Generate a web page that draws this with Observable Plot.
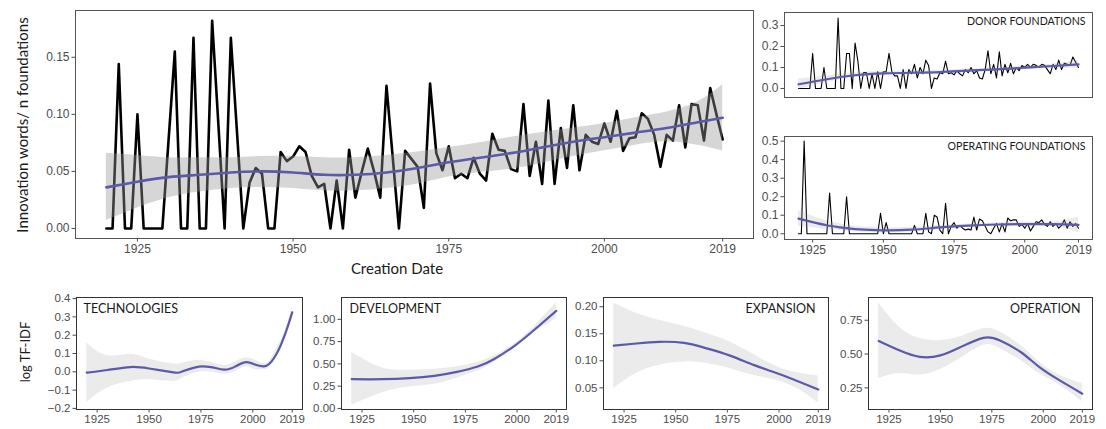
<!DOCTYPE html>
<html><head><meta charset="utf-8">
<script src="https://cdn.jsdelivr.net/npm/d3@7"></script>
<script src="https://cdn.jsdelivr.net/npm/@observablehq/plot@0.6"></script>
<style>
body{margin:0;background:#fff;}
#root{position:relative;width:1106px;height:429px;overflow:hidden;}
.p{position:absolute;}
.lab{position:absolute;color:#1a1a1a;font-family:Lato,sans-serif;white-space:nowrap;transform:translate(-50%,-50%);}
.rot{transform:translate(-50%,-50%) rotate(-90deg);}
</style></head><body><div id="root"></div>
<script>
// ---------- data ----------
const xTicks = [1925, 1950, 1975, 2000, 2019];

const mainYears = [1920,1921,1922,1923,1924,1925,1926,1927,1928,1929,
  1931,1932,1933,1934,1935,1936,1937,1939,1940,
  1942,1943,1944,1945,1946,1947,1948,1949,1950,1951,1952,1953,1954,1955,1956,1957,1958,1959,1960,1961,1962,1963,1964,1965,
  1967,1968,1969,1970,1971,1972,1973,1974,1975,1976,1977,1978,1979,1980,1981,1982,1983,1984,1985,1986,1987,1988,1989,
  1990,1991,1992,1993,1994,1995,1996,1997,1998,1999,2000,2001,2002,2003,2004,2005,2006,2007,2008,2009,
  2010,2011,2012,2013,2014,2015,2016,2017,2018,2019];
const mainValues = [0,0,0.144,0,0,0.100,0,0,0,0,
  0.155,0,0,0.167,0,0,0.182,0,0.167,
  0,0.040,0.053,0.048,0,0,0.067,0.059,0.063,0.072,0.067,0.046,0.036,0.039,0,0.042,0,0.069,0.027,0.049,0.070,0.050,0.027,0.125,
  0,0.068,0.061,0.054,0.018,0.127,0.066,0.051,0.072,0.044,0.048,0.044,0.062,0.048,0.042,0.083,0.069,0.068,0.052,0.050,0.109,0.046,0.076,
  0.039,0.112,0.039,0.088,0.053,0.108,0.051,0.082,0.076,0.074,0.092,0.076,0.103,0.068,0.079,0.080,0.101,0.096,0.082,0.054,
  0.082,0.077,0.108,0.071,0.109,0.108,0.077,0.123,0.100,0.078];
const mainSmoothYears = [1920,1925,1930,1935,1940,1945,1950,1955,1960,1965,1970,1975,1980,1985,1990,1995,2000,2005,2010,2015,2019];
const mainFit = [0.036,0.041,0.045,0.047,0.049,0.050,0.049,0.047,0.047,0.049,0.053,0.058,0.062,0.066,0.071,0.076,0.080,0.084,0.088,0.093,0.097];
const mainHi  = [0.066,0.064,0.062,0.062,0.062,0.063,0.063,0.062,0.062,0.064,0.067,0.071,0.075,0.080,0.084,0.088,0.092,0.097,0.102,0.111,0.126];
const mainLo  = [0.007,0.018,0.027,0.032,0.035,0.036,0.035,0.033,0.033,0.035,0.039,0.045,0.049,0.052,0.057,0.063,0.068,0.073,0.076,0.073,0.068];

const donorYears = d3.range(1920, 2020);
const donorValues = [
  0,0,0,0,0,0.167,0,0,0,0.1,
  0,0,0,0,0.335,0,0,0.167,0.167,0,
  0.216,0.13,0,0.076,0.076,0,0.07,0,0.08,0,
  0.08,0.08,0.167,0.08,0.06,0.06,0,0.09,0,0.09,
  0.07,0.115,0.05,0.1,0.07,0.135,0.11,0,0.05,0.045,
  0.075,0.07,0.13,0.07,0.075,0.065,0.085,0.07,0.06,0.09,
  0.075,0.1,0.07,0.085,0.05,0.045,0.09,0.18,0.07,0.115,
  0.05,0.175,0.06,0.115,0.075,0.12,0.07,0.1,0.085,0.11,
  0.1,0.115,0.1,0.115,0.11,0.1,0.115,0.11,0.09,0.07,
  0.115,0.09,0.135,0.09,0.12,0.115,0.11,0.15,0.125,0.1];
const donorSmoothYears = [1920,1930,1940,1950,1960,1970,1980,1990,2000,2010,2019];
const donorFit = [0.02,0.044,0.063,0.072,0.075,0.078,0.085,0.091,0.099,0.107,0.115];
const donorHi  = [0.045,0.06,0.075,0.082,0.084,0.087,0.093,0.099,0.107,0.117,0.135];
const donorLo  = [-0.005,0.028,0.051,0.062,0.066,0.069,0.077,0.083,0.091,0.097,0.095];

const operYears = d3.range(1920, 2020);
const operValues = [
  0,0,0.5,0,0,0,0,0,0,0,
  0,0.22,0,0,0,0,0,0.2,0,0,
  0,0,0,0,0,0,0,0,0,0.11,
  0,0.06,0,0,0,0,0,0,0,0,
  0,0.045,0,0,0,0.11,0.01,0,0.1,0.09,
  0.02,0,0.165,0,0.04,0.06,0.03,0.045,0.03,0.02,
  0.025,0.02,0.09,0.02,0.08,0.07,0.04,0.01,0,0.03,
  0.055,0.01,0.055,0.01,0.085,0.07,0.075,0.075,0.04,0.05,
  0.03,0.055,0.015,0.04,0.065,0.06,0.075,0.05,0.04,0.065,
  0.04,0.055,0.03,0.045,0.075,0.03,0.065,0.04,0.055,0.03];
const operSmoothYears = [1920,1925,1930,1935,1940,1950,1960,1970,1980,1990,2000,2010,2019];
const operFit = [0.082,0.063,0.046,0.034,0.025,0.018,0.022,0.034,0.044,0.050,0.052,0.052,0.048];
const operHi  = [0.125,0.095,0.070,0.052,0.040,0.032,0.035,0.045,0.053,0.060,0.063,0.064,0.090];
const operLo  = [0.040,0.032,0.022,0.016,0.010,0.004,0.009,0.022,0.035,0.040,0.041,0.040,0.006];

const techYears = [1920,1930,1941,1950,1961,1966,1976,1986,1992,1997,2001,2005,2008,2012,2016,2019];
const techFit = [-0.005,0.01,0.026,0.018,-0.002,0.002,0.03,0.012,0.032,0.053,0.04,0.03,0.044,0.11,0.22,0.325];
const techHi  = [0.158,0.088,0.096,0.07,0.044,0.047,0.061,0.035,0.056,0.075,0.065,0.047,0.06,0.14,0.237,0.36];
const techLo  = [-0.167,-0.088,-0.053,-0.044,-0.053,-0.035,0.0,-0.012,0.005,0.026,0.012,0.012,0.023,0.105,0.2,0.29];

const devYears = [1920,1935,1948,1960,1971,1981,1989,1999,2008,2019];
const devFit = [0.328,0.328,0.34,0.366,0.41,0.47,0.555,0.706,0.875,1.094];
const devHi  = [0.63,0.453,0.43,0.44,0.468,0.517,0.59,0.73,0.913,1.185];
const devLo  = [0.038,0.177,0.24,0.27,0.34,0.42,0.517,0.68,0.845,1.01];

const expYears = [1920,1931,1942,1954,1965,1976,1988,1999,2010,2019];
const expFit = [0.128,0.132,0.135,0.133,0.123,0.110,0.092,0.077,0.061,0.047];
const expHi  = [0.207,0.188,0.175,0.164,0.151,0.135,0.111,0.089,0.077,0.072];
const expLo  = [0.049,0.077,0.092,0.098,0.095,0.086,0.073,0.064,0.046,0.022];

const opYears = [1920,1930,1940,1950,1960,1971,1979,1989,1998,2008,2019];
const opFit = [0.597,0.528,0.479,0.49,0.553,0.62,0.60,0.515,0.405,0.305,0.207];
const opHi  = [0.878,0.70,0.614,0.60,0.63,0.687,0.663,0.565,0.442,0.343,0.282];
const opLo  = [0.319,0.356,0.344,0.386,0.47,0.565,0.54,0.454,0.356,0.27,0.147];

// ---------- drawing ----------
const BLUE = "#5a5aa9";
const XDOM = [1915.05, 2023.95];
const root = document.getElementById("root");

function panel(o) {
  const marks = [];
  if (o.years) {
    const data = o.years.map((x, i) => ({x, y: o.values[i]}));
    marks.push(Plot.line(data, {x: "x", y: "y", stroke: "#000", strokeWidth: o.lw}));
  }
  const band = o.sYears.map((x, i) => ({x, fit: o.fit[i], lo: o.lo[i], hi: o.hi[i]}));
  marks.push(Plot.areaY(band, {x: "x", y1: "lo", y2: "hi", fill: "#999999", fillOpacity: o.alpha, curve: "natural"}));
  marks.push(Plot.line(band, {x: "x", y: "fit", stroke: BLUE, strokeWidth: o.bw, curve: "natural"}));
  marks.push(Plot.frame({stroke: o.frameColor || "#333", strokeWidth: 1}));
  marks.push(Plot.axisY({ticks: o.yTicks, tickFormat: o.yFmt, tickSize: 3.5, tickPadding: 2.5, label: null, fontSize: o.fs}));
  if (o.xAxis) marks.push(Plot.axisX({ticks: xTicks, tickFormat: d => String(d), tickSize: 3.5, tickPadding: 2, label: null, fontSize: o.fs}));
  if (o.title) marks.push(Plot.text([o.title], {frameAnchor: o.anchor, dx: o.tdx, dy: o.tdy, text: d => d,
    fontSize: o.tfs, fontFamily: "Lato", fill: "#1a1a1a"}));
  const chart = Plot.plot({
    width: o.width, height: o.height,
    marginLeft: o.ml, marginRight: o.mr, marginTop: o.mt, marginBottom: o.mb,
    x: {domain: XDOM, axis: null},
    y: {domain: o.yDom, axis: null},
    style: {fontFamily: "'Liberation Sans', Arial, sans-serif", fontSize: o.fs + "px", color: "#4d4d4d", background: "transparent", overflow: "visible"},
    marks
  });
  chart.classList.add("p");
  chart.style.left = o.left + "px";
  chart.style.top = o.top + "px";
  chart.style.maxWidth = "none";
  root.appendChild(chart);
}

const f2 = d3.format(".2f"), f1 = d3.format(".1f");

// main panel
panel({left: 0, top: 0, width: 760, height: 275, ml: 75, mr: 7, mt: 10, mb: 37,
  years: mainYears, values: mainValues, lw: 2.6, bw: 2.6, alpha: 0.4,
  sYears: mainSmoothYears, fit: mainFit, lo: mainLo, hi: mainHi,
  yDom: [-0.0088, 0.191], yTicks: [0, 0.05, 0.10, 0.15], yFmt: f2, xAxis: true, fs: 12, frameColor: "#555"});

// donor foundations
panel({left: 750, top: 0, width: 350, height: 100, ml: 34, mr: 8, mt: 12, mb: 3,
  years: donorYears, values: donorValues, lw: 1.1, bw: 2.2, alpha: 0.2,
  sYears: donorSmoothYears, fit: donorFit, lo: donorLo, hi: donorHi,
  yDom: [-0.043, 0.362], yTicks: [0, 0.1, 0.2, 0.3], yFmt: f1, xAxis: false, fs: 12, frameColor: "#555",
  title: "DONOR FOUNDATIONS", anchor: "top-right", tdx: -7, tdy: 5, tfs: 10.6});

// operating foundations
panel({left: 750, top: 124, width: 350, height: 137, ml: 34, mr: 8, mt: 12, mb: 22,
  years: operYears, values: operValues, lw: 1.1, bw: 2.2, alpha: 0.2,
  sYears: operSmoothYears, fit: operFit, lo: operLo, hi: operHi,
  yDom: [-0.031, 0.525], yTicks: [0, 0.1, 0.2, 0.3, 0.4, 0.5], yFmt: f1, xAxis: true, fs: 12, frameColor: "#555",
  title: "OPERATING FOUNDATIONS", anchor: "top-right", tdx: -7, tdy: 6, tfs: 10.6});

// bottom panels
const bt = {top: 280, height: 149, mt: 17, mb: 20, ml: 36, bw: 2.2, alpha: 0.2, xAxis: true, fs: 11.5, tfs: 12.5, tdy: 7};
panel(Object.assign({}, bt, {left: 40, width: 270, mr: 8,
  sYears: techYears, fit: techFit, lo: techLo, hi: techHi,
  yDom: [-0.206, 0.406], yTicks: [-0.2, -0.1, 0, 0.1, 0.2, 0.3, 0.4], yFmt: f1,
  title: "TECHNOLOGIES", anchor: "top-left", tdx: 7}));
panel(Object.assign({}, bt, {left: 305, width: 270, mr: 9,
  sYears: devYears, fit: devFit, lo: devLo, hi: devHi,
  yDom: [-0.012, 1.245], yTicks: [0, 0.25, 0.5, 0.75, 1], yFmt: f2,
  title: "DEVELOPMENT", anchor: "top-left", tdx: 8}));
panel(Object.assign({}, bt, {left: 567, width: 270, mr: 9,
  sYears: expYears, fit: expFit, lo: expLo, hi: expHi,
  yDom: [0.01, 0.217], yTicks: [0.05, 0.10, 0.15, 0.20], yFmt: f2,
  title: "EXPANSION", anchor: "top-right", tdx: -13}));
panel(Object.assign({}, bt, {left: 832, width: 274, mr: 14,
  sYears: opYears, fit: opFit, lo: opLo, hi: opHi,
  yDom: [0.09, 0.918], yTicks: [0.25, 0.5, 0.75], yFmt: f2,
  title: "OPERATION", anchor: "top-right", tdx: -12}));

// axis titles
function label(text, x, y, size, rot) {
  const d = document.createElement("div");
  d.className = "lab" + (rot ? " rot" : "");
  d.textContent = text;
  d.style.left = x + "px";
  d.style.top = y + "px";
  d.style.fontSize = size + "px";
  root.appendChild(d);
}
label("Innovation words/ n foundations", 22, 125, 15, true);
label("Creation Date", 397, 268, 15, false);
label("log TF-IDF", 25, 352, 13, true);
</script></body></html>
